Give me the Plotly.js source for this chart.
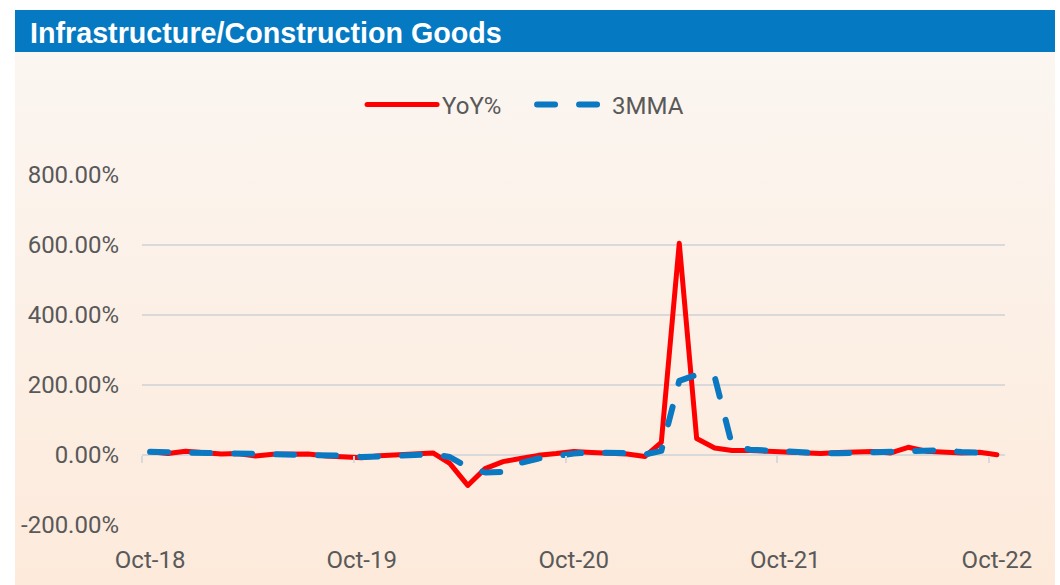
<!DOCTYPE html>
<html><head><meta charset="utf-8">
<script src="https://cdn.plot.ly/plotly-3.0.1.min.js"></script>
<style>
html,body{margin:0;padding:0;background:#fff;}
#wrap{position:relative;width:1060px;height:585px;overflow:hidden;background:#fff;}
#panel{position:absolute;left:15px;top:52px;width:1040px;height:533px;background:linear-gradient(#FBF6F1,#FDEADB);}
#bar{position:absolute;left:15px;top:10px;width:1040px;height:42px;background:#0579C1;}
#chart{position:absolute;left:0;top:0;width:1060px;height:585px;}
.js-line{stroke-linecap:round;stroke-linejoin:round;}
</style></head>
<body><div id="wrap"><div id="panel"></div><div id="bar"></div><div id="chart"></div></div>
<script>
const dates = ['2018-10-15','2018-11-15','2018-12-15','2019-01-15','2019-02-15','2019-03-15','2019-04-15','2019-05-15','2019-06-15','2019-07-15','2019-08-15','2019-09-15',
'2019-10-15','2019-11-15','2019-12-15','2020-01-15','2020-02-15','2020-03-15','2020-04-15','2020-05-15','2020-06-15','2020-07-15','2020-08-15','2020-09-15',
'2020-10-15','2020-11-15','2020-12-15','2021-01-15','2021-02-15','2021-03-15','2021-04-15','2021-05-15','2021-06-15','2021-07-15','2021-08-15','2021-09-15',
'2021-10-15','2021-11-15','2021-12-15','2022-01-15','2022-02-15','2022-03-15','2022-04-15','2022-05-15','2022-06-15','2022-07-15','2022-08-15','2022-09-15',
'2022-10-15'];
const yoy = [9,4,11,8,3,4,-3,2,1,3,-3,-6,
-8,-2,0,1,6,-24,-87,-39,-19,-10,-1,4,
10,7,6,3,-4,36,605,47,20,13,13,11,
8,4,4,7,8,10,6,22,11,8,6,8,
1];
const mma3 = [9,8,8,7.7,7.3,5,1.3,1,0,2,0.3,-2,
-5.7,-5.3,-3.3,-0.3,2.3,-5.7,-35,-50,-48.3,-22.7,-10,-2.3,
4.3,7,7.7,5.3,1.7,11.7,212,229,224,28,15.3,12.3,
10.7,7.7,5.3,5,6.3,8.3,8,12.7,13,13.7,8.3,7.3,
5];
const labelDates = ['2018-10-15','2019-10-15','2020-10-15','2021-10-15','2022-10-15'];
const tickDates = ['2018-10-01','2019-10-01','2020-10-01','2021-10-01','2022-10-01'];
const tickLabels = ['Oct-18','Oct-19','Oct-20','Oct-21','Oct-22'];
const yTickVals = [-200,0,200,400,600,800];
const yTickLabels = ['-200.00%','0.00%','200.00%','400.00%','600.00%','800.00%'];
const seriesNames = ['YoY%','3MMA'];

const textFont = {family:'Roboto, Arial, sans-serif', size:24, color:'#595959'};
const xRange = ['2018-10-01','2022-10-29'];

const traces = [
  {x:dates, y:yoy, name:seriesNames[0], type:'scatter', mode:'lines', xaxis:'x', yaxis:'y',
   line:{color:'#FF0000', width:5}},
  {x:dates, y:mma3, name:seriesNames[1], type:'scatter', mode:'lines', xaxis:'x2', yaxis:'y',
   line:{color:'#0A79C1', width:6, dash:'18px,24px'}}
];

const layout = {
  width:1060, height:585,
  margin:{l:142, r:55, t:175, b:60},
  paper_bgcolor:'rgba(0,0,0,0)', plot_bgcolor:'rgba(0,0,0,0)',
  title:{text:'<b>Infrastructure/Construction Goods</b>', xref:'container', yref:'container',
    x:30/1060, xanchor:'left', y:1-33/585, yanchor:'middle',
    font:{family:'Liberation Sans, Arial, sans-serif', size:28.7, color:'#FFFFFF'}},
  showlegend:true,
  legend:{orientation:'h', x:0.452, xanchor:'center', y:1.2, yanchor:'middle',
    font:textFont, bgcolor:'rgba(0,0,0,0)', itemwidth:70, entrywidth:85, entrywidthmode:'pixels'},
  xaxis:{type:'date', range:xRange, tickvals:labelDates, ticktext:tickLabels,
    ticks:'', showgrid:false, showline:false, zeroline:false, tickfont:textFont,
    ticklabelstandoff:18},
  xaxis2:{type:'date', range:xRange, overlaying:'x', anchor:'free', position:0.2,
    tickvals:tickDates, ticks:'outside', ticklen:7, tickwidth:2, tickcolor:'#D9D9D9',
    showticklabels:false, showgrid:false, showline:false, zeroline:false},
  yaxis:{range:[-200,800], tickvals:yTickVals, ticktext:yTickLabels, tickfont:textFont,
    showgrid:true, gridcolor:'#D9D9D9', gridwidth:2, zeroline:true, zerolinecolor:'#D9D9D9',
    zerolinewidth:2, showline:false, ticks:'', ticklabelstandoff:22}
};

Plotly.newPlot('chart', traces, layout, {displayModeBar:false, staticPlot:true});
</script>
</body></html>
